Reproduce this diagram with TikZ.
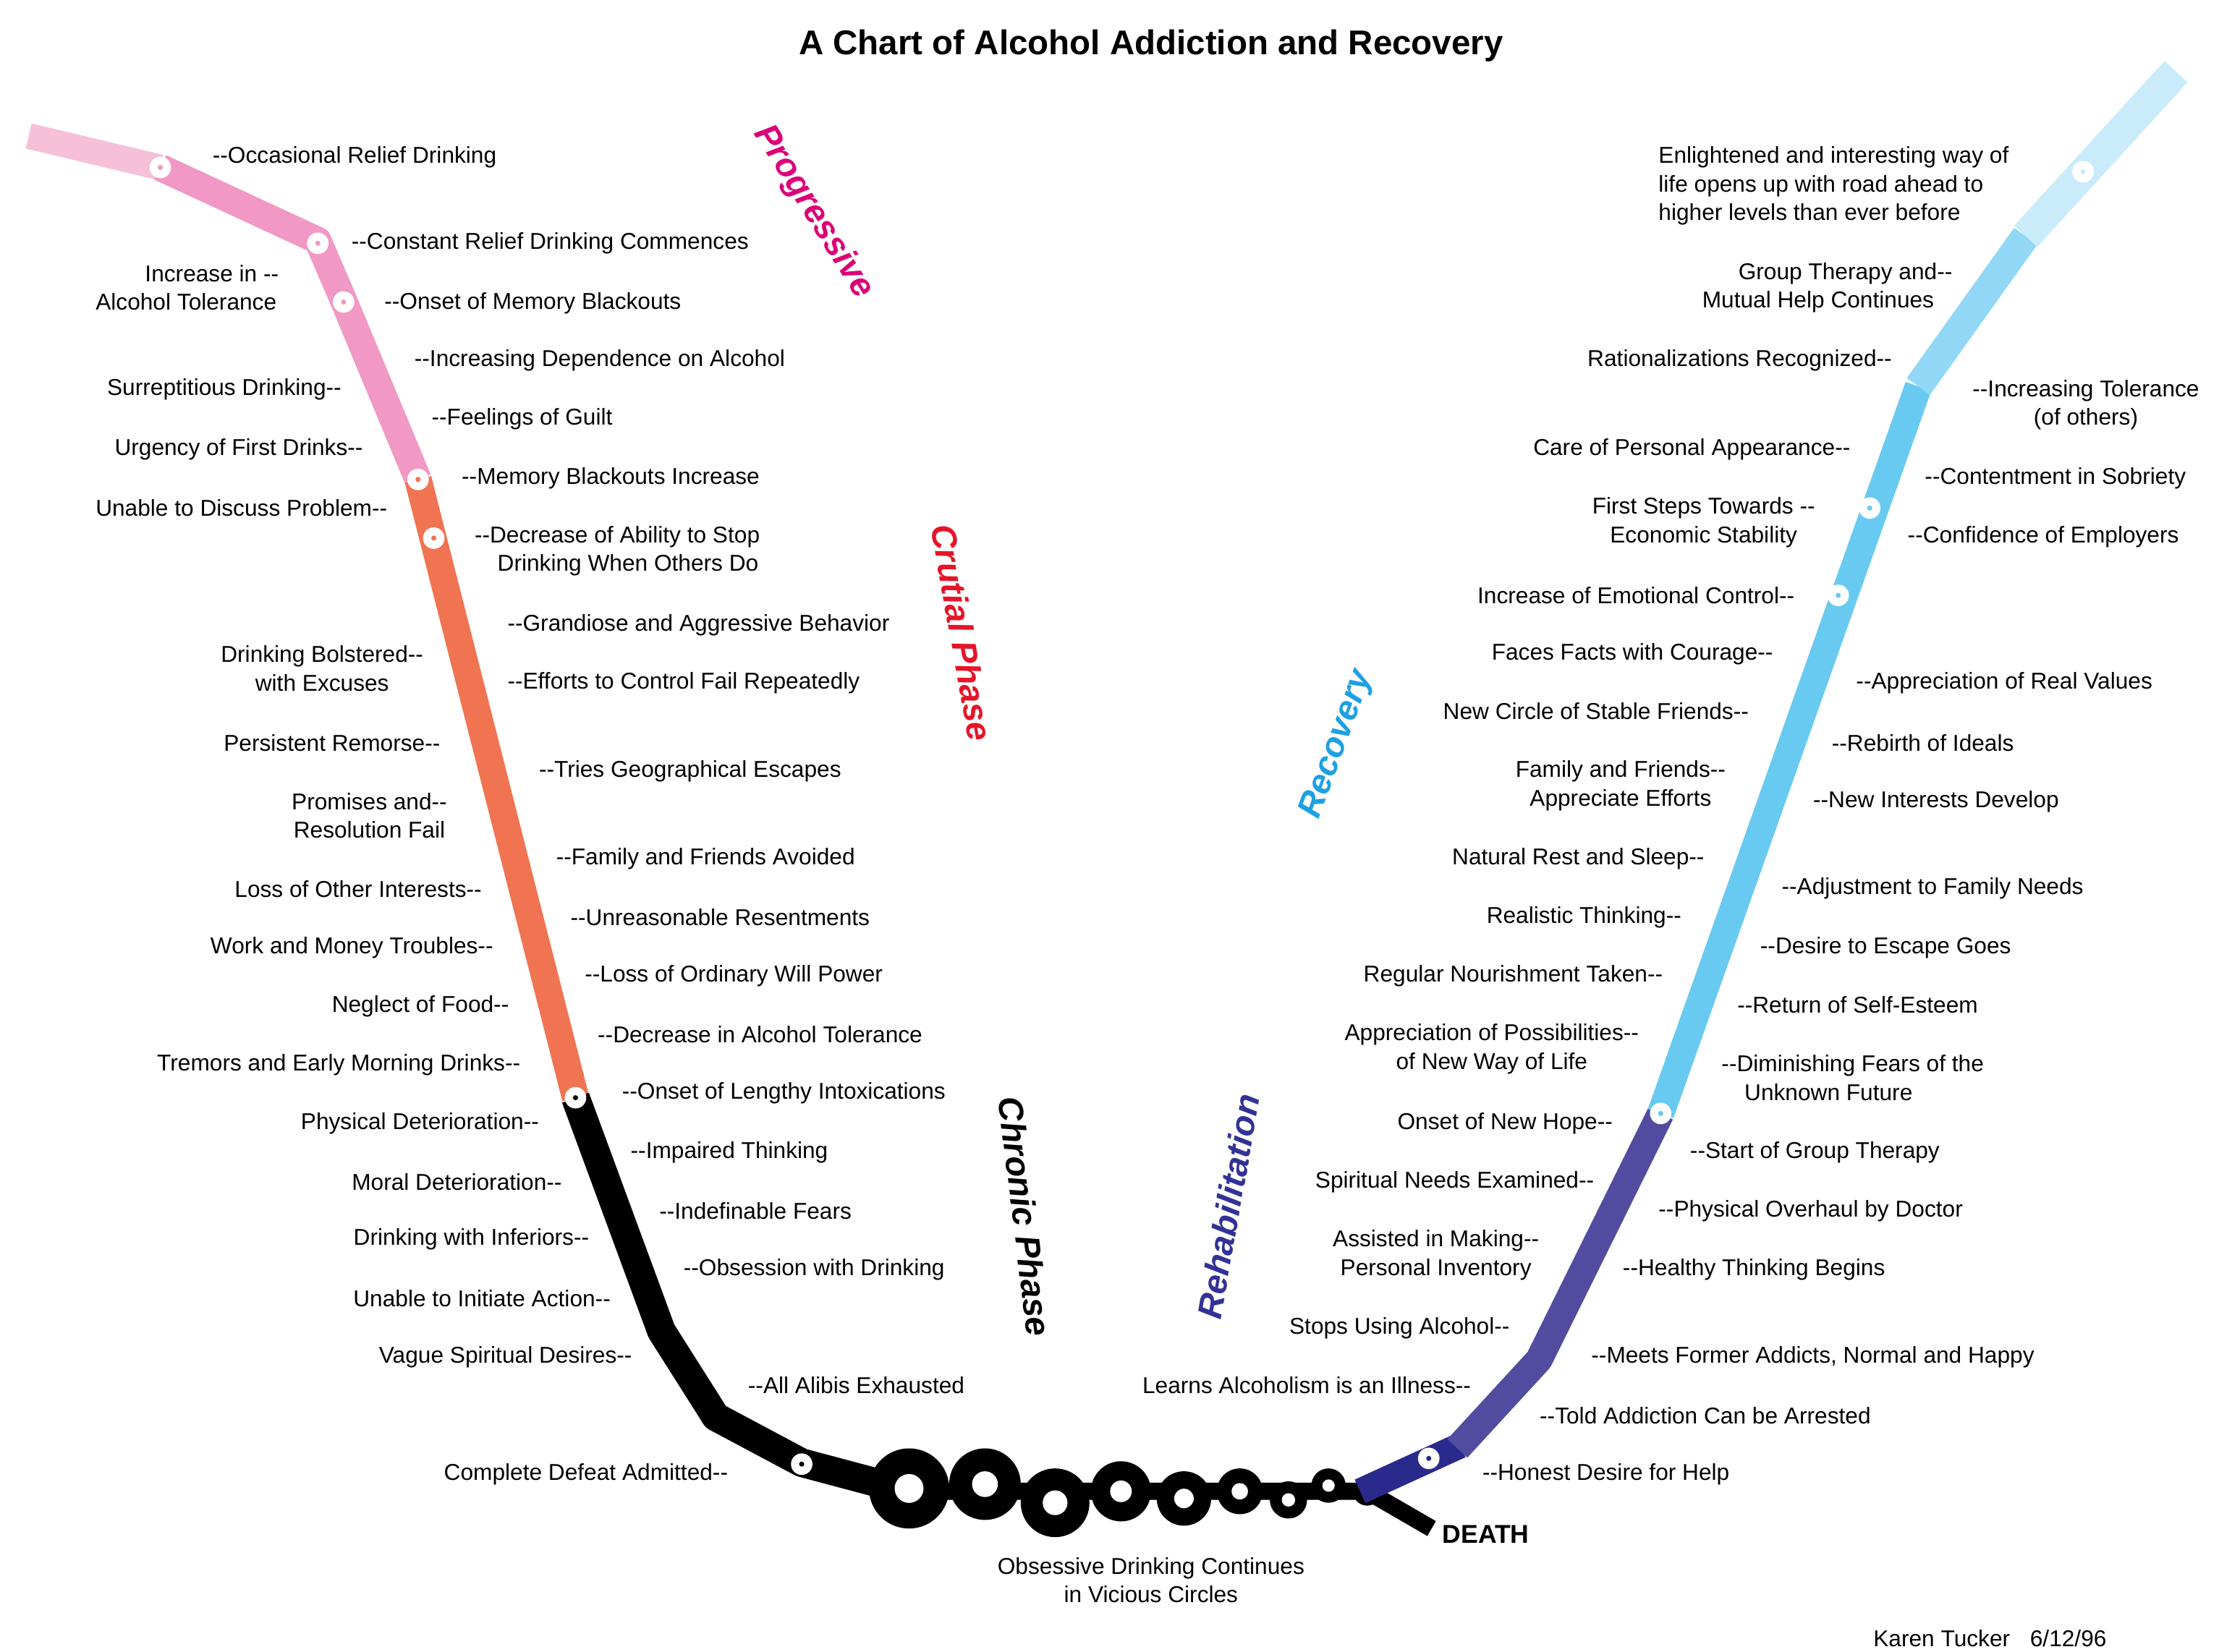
\documentclass[tikz,border=0pt]{standalone}
\usepackage{fontspec}
\setmainfont{Liberation Sans}
\usetikzlibrary{positioning}
\definecolor{palepink}{RGB}{246,192,217}
\definecolor{midpink}{RGB}{241,152,196}
\definecolor{crucial}{RGB}{240,116,82}
\definecolor{navy}{RGB}{42,42,140}
\definecolor{rehab}{RGB}{82,76,160}
\definecolor{recblue}{RGB}{104,202,240}
\definecolor{recsky}{RGB}{146,216,246}
\definecolor{recpale}{RGB}{202,236,250}
\definecolor{progcol}{RGB}{220,0,120}
\definecolor{crutcol}{RGB}{230,20,40}
\definecolor{recovcol}{RGB}{30,160,225}
\definecolor{rehabcol}{RGB}{50,50,150}
\newcommand{\dsh}{-{}-}
\newcommand{\lefttext}[3] {\node at (#1) (#2) [anchor=east, align=right] {#3};}
\newcommand{\righttext}[3] {\node at (#1) (#2) [anchor=west, align=left] {#3};}
\newcommand{\midtext}[3] {\node at (#1) (#2) [align=center] {#3};}
\newcommand{\stagedot}[3] {\fill [white] (#1) circle (7.5); \fill [#3] (#1) circle (1.8); \coordinate (#2) at (#1);}
\newcommand{\vicious}[3] {\fill [black] (#1) circle (#3); \fill [white] (#1) circle (#3*0.36); \coordinate (#2) at (#1);}
\newcommand{\phase}[5] {\node at (#1) (#2) [rotate=#3, text=#4, font=\fontsize{24}{28}\selectfont\bfseries\itshape] {#5};}

\begin{document}
\begin{tikzpicture}[x=1pt, y=-1pt, font=\fontsize{16}{20}\selectfont, line join=round]
\useasboundingbox (0,0) rectangle (1550,1154);

% the road down
\draw [palepink, line width=18pt] (20,95) -- (112,117);
\draw [midpink, line width=19pt] (112,117) -- (222,168) -- (240,210) -- (292,335);
\draw [crucial, line width=19pt] (292,335) -- (402,767);
\draw [black, line width=20pt] (402,767) -- (462,930) -- (500,990) -- (560,1022) -- (635,1042);
\draw [black, line width=12pt] (635,1042) -- (955,1042) -- (1000,1068);

% vicious circles
\vicious {635,1040}{vc1}{28}
\vicious {688,1037}{vc2}{25}
\vicious {737,1050}{vc3}{24}
\vicious {783,1042}{vc4}{21}
\vicious {827,1047}{vc5}{19}
\vicious {866,1042}{vc6}{16}
\vicious {900,1048}{vc7}{13}
\vicious {928,1038}{vc8}{12}
\vicious {955,1042}{vc9}{10}

% the road up
\draw [navy, line width=18pt] (950,1042) -- (1020,1010);
\draw [rehab, line width=19pt] (1018,1012) -- (1075,950) -- (1160,778);
\draw [recblue, line width=19pt] (1160,778) -- (1340,270);
\draw [recsky, line width=20pt] (1340,270) -- (1415,165);
\draw [recpale, line width=22pt] (1415,165) -- (1520,50);

% stage dots
\stagedot {112,117}{d1}{midpink}
\stagedot {222,170}{d2}{midpink}
\stagedot {240,211}{d3}{midpink}
\stagedot {292,335}{d4}{crucial}
\stagedot {303,376}{d5}{crucial}
\stagedot {402,767}{d6}{black}
\stagedot {560,1023}{d7}{black}
\stagedot {998,1019}{d8}{navy}
\stagedot {1160,778}{d9}{recblue}
\stagedot {1284,416}{d10}{recblue}
\stagedot {1306,355}{d11}{recblue}
\stagedot {1455,120}{d12}{recpale}

\node at (804,32) (title) [font=\fontsize{24}{28}\selectfont\bfseries] {A Chart of Alcohol Addiction and Recovery};

% phases
\phase {568,148}{progressive}{-58}{progcol}{Progressive}
\phase {672,442}{crutial}{-80}{crutcol}{Crutial Phase}
\phase {716,850}{chronic}{-83}{black}{Chronic Phase}
\phase {858,843}{rehabilitation}{80}{rehabcol}{Rehabilitation}
\phase {934,520}{recovery}{70}{recovcol}{Recovery}

% left side, going down
\midtext {130,201}{tolerance}{\hspace*{36pt}Increase in \dsh\\Alcohol Tolerance}
\lefttext {242,272}{surrept}{Surreptitious Drinking\dsh}
\lefttext {257,314}{urgency}{Urgency of First Drinks\dsh}
\lefttext {274,355}{discuss}{Unable to Discuss Problem\dsh}
\midtext {225,467}{bolstered}{Drinking Bolstered\dsh\\with Excuses}
\lefttext {311,519}{remorse}{Persistent Remorse\dsh}
\midtext {258,570}{promises}{Promises and\dsh\\Resolution Fail}
\lefttext {340,621}{interests}{Loss of Other Interests\dsh}
\lefttext {348,662}{money}{Work and Money Troubles\dsh}
\lefttext {359,703}{food}{Neglect of Food\dsh}
\lefttext {367,744}{tremors}{Tremors and Early Morning Drinks\dsh}
\lefttext {380,785}{physical}{Physical Deterioration\dsh}
\lefttext {396,826}{moral}{Moral Deterioration\dsh}
\lefttext {415,866}{inferiors}{Drinking with Inferiors\dsh}
\lefttext {430,907}{initiate}{Unable to Initiate Action\dsh}
\lefttext {445,948}{spiritual}{Vague Spiritual Desires\dsh}
\lefttext {512,1030}{defeat}{Complete Defeat Admitted\dsh}

\righttext {145,110}{occasional}{\dsh Occasional Relief Drinking}
\righttext {242,170}{constant}{\dsh Constant Relief Drinking Commences}
\righttext {265,212}{blackouts}{\dsh Onset of Memory Blackouts}
\righttext {286,252}{dependence}{\dsh Increasing Dependence on Alcohol}
\righttext {298,293}{guilt}{\dsh Feelings of Guilt}
\righttext {319,334}{blackinc}{\dsh Memory Blackouts Increase}
\righttext {328,385}{ability}{\dsh Decrease of Ability to Stop\\\hspace*{16pt}Drinking When Others Do}
\righttext {351,437}{grandiose}{\dsh Grandiose and Aggressive Behavior}
\righttext {351,477}{control}{\dsh Efforts to Control Fail Repeatedly}
\righttext {373,539}{geographic}{\dsh Tries Geographical Escapes}
\righttext {385,600}{avoided}{\dsh Family and Friends Avoided}
\righttext {395,641}{resent}{\dsh Unreasonable Resentments}
\righttext {405,682}{willpower}{\dsh Loss of Ordinary Will Power}
\righttext {414,723}{alcdecrease}{\dsh Decrease in Alcohol Tolerance}
\righttext {431,764}{lengthy}{\dsh Onset of Lengthy Intoxications}
\righttext {437,805}{impaired}{\dsh Impaired Thinking}
\righttext {457,846}{fears}{\dsh Indefinable Fears}
\righttext {474,887}{obsession}{\dsh Obsession with Drinking}
\righttext {519,968}{alibis}{\dsh All Alibis Exhausted}

\midtext {804,1104}{circles}{Obsessive Drinking Continues\\in Vicious Circles}
\node at (1004,1072) (death) [anchor=west, font=\fontsize{18}{22}\selectfont\bfseries] {DEATH};

% right side, going up
\righttext {1155,130}{enlightened}{Enlightened and interesting way of\\life opens up with road ahead to\\higher levels than ever before}
\midtext {1270,201}{grouphelp}{\hspace*{38pt}Group Therapy and\dsh\\Mutual Help Continues}
\lefttext {1325,252}{rational}{Rationalizations Recognized\dsh}
\lefttext {1296,314}{appearance}{Care of Personal Appearance\dsh}
\midtext {1190,365}{economic}{First Steps Towards \dsh\\Economic Stability}
\lefttext {1257,416}{emotional}{Increase of Emotional Control\dsh}
\lefttext {1242,457}{courage}{Faces Facts with Courage\dsh}
\lefttext {1225,497}{circlefr}{New Circle of Stable Friends\dsh}
\midtext {1132,549}{efforts}{Family and Friends\dsh\\Appreciate Efforts}
\lefttext {1194,600}{rest}{Natural Rest and Sleep\dsh}
\lefttext {1178,641}{realistic}{Realistic Thinking\dsh}
\lefttext {1165,682}{nourish}{Regular Nourishment Taken\dsh}
\midtext {1042,733}{possib}{Appreciation of Possibilities\dsh\\of New Way of Life}
\lefttext {1130,785}{hope}{Onset of New Hope\dsh}
\lefttext {1117,826}{spirneeds}{Spiritual Needs Examined\dsh}
\midtext {1003,877}{inventory}{Assisted in Making\dsh\\Personal Inventory}
\lefttext {1058,928}{stops}{Stops Using Alcohol\dsh}
\lefttext {1031,968}{illness}{Learns Alcoholism is an Illness\dsh}

\midtext {1457,283}{tolothers}{\dsh Increasing Tolerance\\(of others)}
\righttext {1341,334}{sobriety}{\dsh Contentment in Sobriety}
\righttext {1329,375}{employers}{\dsh Confidence of Employers}
\righttext {1293,477}{values}{\dsh Appreciation of Real Values}
\righttext {1276,519}{ideals}{\dsh Rebirth of Ideals}
\righttext {1263,560}{newint}{\dsh New Interests Develop}
\righttext {1241,621}{family}{\dsh Adjustment to Family Needs}
\righttext {1226,662}{escape}{\dsh Desire to Escape Goes}
\righttext {1210,702}{esteem}{\dsh Return of Self-Esteem}
\righttext {1199,753}{unknown}{\dsh Diminishing Fears of the\\\hspace*{16pt}Unknown Future}
\righttext {1177,805}{groupstart}{\dsh Start of Group Therapy}
\righttext {1155,846}{doctor}{\dsh Physical Overhaul by Doctor}
\righttext {1130,887}{healthy}{\dsh Healthy Thinking Begins}
\righttext {1108,948}{addicts}{\dsh Meets Former Addicts, Normal and Happy}
\righttext {1072,989}{arrested}{\dsh Told Addiction Can be Arrested}
\righttext {1032,1030}{honest}{\dsh Honest Desire for Help}

\node at (1390,1154) (signed) [anchor=south] {Karen Tucker\hspace{14pt}6/12/96};
\end{tikzpicture}
\end{document}
